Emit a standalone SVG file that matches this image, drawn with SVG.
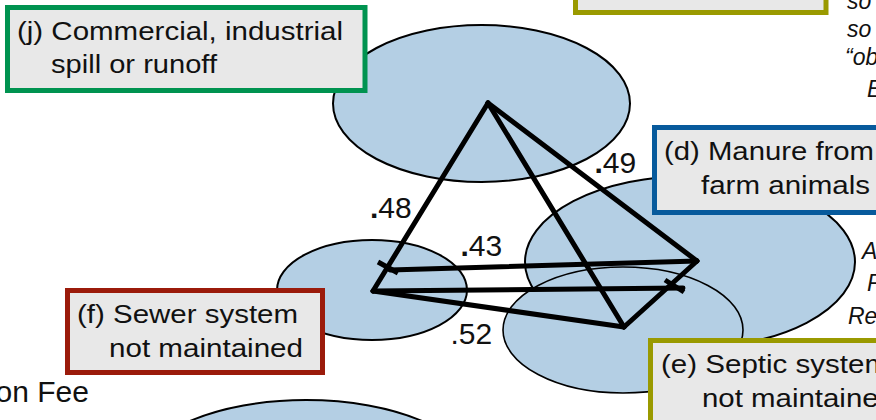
<svg xmlns="http://www.w3.org/2000/svg" width="876" height="420" viewBox="0 0 876 420">
<style>
.bg{fill:#ffffff}
.ell{fill:#b4cfe4;stroke:#000;stroke-width:2}
.ell.thin{stroke-width:1.6}
.box{fill:#e8e8e8;stroke-width:5}
.green{stroke:#009350}
.red{stroke:#9b1b0b}
.blue{stroke:#075a9c}
.olive{stroke:#9a9a00}
.bt{font-family:"Liberation Sans",Arial,sans-serif;font-size:25px;fill:#111}
.lab{font-family:"Liberation Sans",Arial,sans-serif;font-size:30px;fill:#111}
.it{font-family:"Liberation Sans",Arial,sans-serif;font-size:23px;font-style:italic;fill:#111}
.edge{stroke:#000;stroke-width:5;stroke-linecap:round;fill:none}
.tick{stroke:#000;stroke-width:5;stroke-linecap:butt;fill:none}
</style>
<rect class="bg" x="0" y="0" width="876" height="420"/>

<g id="ellipses">
  <ellipse id="ell-j" class="ell" cx="481.5" cy="103.5" rx="148.5" ry="78.5"/>
  <ellipse id="ell-f" class="ell" cx="372" cy="290" rx="95" ry="50"/>
  <ellipse id="ell-d" class="ell" cx="690" cy="262" rx="165" ry="86"/>
  <ellipse id="ell-e" class="ell thin" cx="623" cy="330" rx="120" ry="63"/>
  <ellipse id="ell-bottom" class="ell" cx="306" cy="478" rx="170" ry="78"/>
</g>

<g id="connectors">
  <line class="edge" x1="488" y1="103" x2="373" y2="291"/>
  <line class="edge" x1="488" y1="103" x2="697" y2="261"/>
  <line class="edge" x1="488" y1="103" x2="624" y2="327"/>
  <line class="edge" x1="373" y1="291" x2="624" y2="327"/>
  <line class="edge" x1="697" y1="261" x2="624" y2="327"/>
  <line class="edge" x1="697" y1="261" x2="390" y2="270"/>
  <line class="tick" x1="378" y1="262" x2="398" y2="273"/>
  <line class="edge" x1="373" y1="291" x2="683" y2="288"/>
  <line class="tick" x1="665" y1="280" x2="684" y2="292"/>
  <text class="lab" x="370" y="218"><tspan font-weight="bold">.</tspan>48</text>
  <text class="lab" x="594.5" y="173"><tspan font-weight="bold">.</tspan>49</text>
  <text class="lab" x="460.5" y="256"><tspan font-weight="bold">.</tspan>43</text>
  <text class="lab" x="450.5" y="344">.52</text>
</g>

<g id="node-top">
  <rect class="box olive" x="575.5" y="-50" width="250.5" height="62.5"/>
</g>

<g id="node-j">
  <rect class="box green" x="7.5" y="7.5" width="357.5" height="83"/>
  <text class="bt" x="17" y="40" textLength="326" lengthAdjust="spacingAndGlyphs">(j) Commercial, industrial</text>
  <text class="bt" x="51" y="73" textLength="166" lengthAdjust="spacingAndGlyphs">spill or runoff</text>
</g>

<g id="node-f">
  <rect class="box red" x="67.5" y="290.5" width="255" height="82"/>
  <text class="bt" x="77" y="323" textLength="221" lengthAdjust="spacingAndGlyphs">(f) Sewer system</text>
  <text class="bt" x="109" y="357" textLength="194" lengthAdjust="spacingAndGlyphs">not maintained</text>
</g>

<g id="node-d">
  <rect class="box blue" x="654.5" y="127.5" width="260" height="85"/>
  <text class="bt" x="664" y="160" textLength="210" lengthAdjust="spacingAndGlyphs">(d) Manure from</text>
  <text class="bt" x="701" y="194" textLength="169" lengthAdjust="spacingAndGlyphs">farm animals</text>
</g>

<g id="node-e">
  <rect class="box olive" x="650.5" y="340.5" width="260" height="100"/>
  <text class="bt" x="661" y="373" textLength="228" lengthAdjust="spacingAndGlyphs">(e) Septic system</text>
  <text class="bt" x="702" y="407" textLength="193" lengthAdjust="spacingAndGlyphs">not maintained</text>
</g>

<g id="side-texts">
  <text class="lab" x="89" y="402" text-anchor="end">on Fee</text>
  <text class="it" x="847" y="9">so</text>
  <text class="it" x="847" y="37">so</text>
  <text class="it" x="845" y="65">“ob</text>
  <text class="it" x="867" y="97">E</text>
  <text class="it" x="862" y="259">A</text>
  <text class="it" x="867" y="291">F</text>
  <text class="it" x="848" y="324">Re</text>
</g>
</svg>
